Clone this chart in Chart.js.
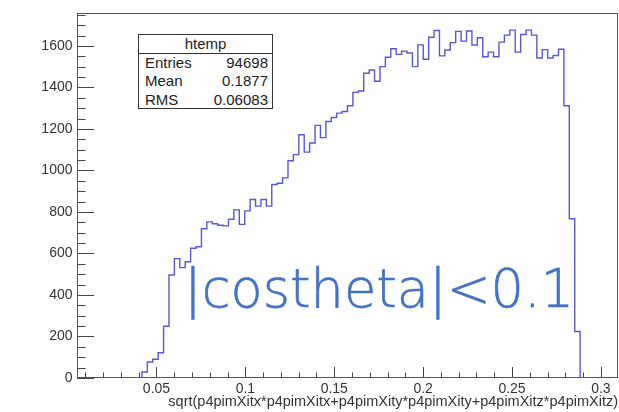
<!DOCTYPE html>
<html>
<head>
<meta charset="utf-8">
<script src="https://cdn.jsdelivr.net/npm/chart.js@4/dist/chart.umd.min.js"></script>
<style>
html,body{margin:0;padding:0;background:#fff;}
#wrap{position:relative;width:619px;height:412px;overflow:hidden;background:#fff;}
#c{position:absolute;left:0;top:0;}
#stats{position:absolute;left:138px;top:34px;width:135px;height:75px;box-sizing:border-box;border:1px solid #333;background:#fff;
  font-family:"Liberation Sans",Arial,sans-serif;font-size:15px;color:#222;}
#stats .t{height:18px;line-height:18px;text-align:center;border-bottom:1px solid #333;}
#stats .r{display:flex;justify-content:space-between;height:18.3px;line-height:18.3px;padding:0 4px 0 6px;}
#note{position:absolute;left:184px;top:263px;font-family:"DejaVu Sans",sans-serif;font-weight:200;font-size:52.5px;line-height:1;color:#4472C4;white-space:nowrap;-webkit-text-stroke:0.6px #4472C4;}
</style>
</head>
<body>
<div id="wrap">
  <canvas id="c" width="619" height="412"></canvas>
  <div id="stats"></div>
  <div id="note"></div>
</div>
<script>
// ---- data ----
const histName = 'htemp';
const statLabels = ['Entries', 'Mean', 'RMS'];
const statValues = ['94698', '0.1877', '0.06083'];
const xTitle = 'sqrt(p4pimXitx*p4pimXitx+p4pimXity*p4pimXity+p4pimXitz*p4pimXitz)';
const noteText = '|costheta|<0.1';

const xMin = 0.00528;          // histogram axis range
const xMax = 0.30962;
const nBins = 100;
const firstBin = 12;           // index of first filled bin
const binCounts = [
  29, 77, 90, 122, 249, 496, 575, 532, 560,
  625, 632, 719, 752, 743, 736, 733, 765, 810, 740,
  805, 860, 828, 860, 828, 932, 938, 964, 1047, 1076,
  1172, 1088, 1132, 1217, 1158, 1236, 1255, 1276, 1284, 1312,
  1376, 1383, 1468, 1484, 1430, 1500, 1545, 1586, 1559, 1575,
  1566, 1500, 1605, 1536, 1642, 1674, 1552, 1580, 1616, 1670,
  1623, 1672, 1604, 1639, 1548, 1570, 1548, 1618, 1652, 1676,
  1570, 1655, 1676, 1652, 1542, 1582, 1542, 1554, 1584,
  1312, 767, 224
];
const yMax = 1759;
const xTicks = [0.05, 0.1, 0.15, 0.2, 0.25, 0.3];
const xTickLabels = ['0.05', '0.1', '0.15', '0.2', '0.25', '0.3'];
const yTicks = [0, 200, 400, 600, 800, 1000, 1200, 1400, 1600];
const yTickLabels = ['0', '200', '400', '600', '800', '1000', '1200', '1400', '1600'];
const xMinorStep = 0.01;
const yMinorStep = 50;

// ---- build histogram points (bin low edges, step drawing) ----
const binWidth = (xMax - xMin) / nBins;
const pts = [];
const e0 = xMin + firstBin * binWidth;
pts.push({x: e0, y: 0});
binCounts.forEach((v, k) => pts.push({x: xMin + (firstBin + k) * binWidth, y: v}));
pts.push({x: xMin + (firstBin + binCounts.length) * binWidth, y: 0});

// ---- overlays as real text ----
const st = document.getElementById('stats');
st.innerHTML = '<div class="t">' + histName + '</div>' +
  statLabels.map((l, i) => '<div class="r"><span>' + l + '</span><span>' + statValues[i] + '</span></div>').join('');
document.getElementById('note').textContent = noteText;

const FONT = '"Liberation Sans", Arial, sans-serif';

const rootFrame = {
  id: 'rootFrame',
  afterDatasetsDraw(chart) {
    const {ctx, chartArea: a, scales: {x, y}} = chart;
    ctx.save();
    ctx.strokeStyle = '#444';
    ctx.lineWidth = 1;
    ctx.beginPath();
    for (let v = Math.ceil(xMin / xMinorStep) * xMinorStep; v <= xMax + 1e-9; v += xMinorStep) {
      const px = Math.round(x.getPixelForValue(v)) + 0.5;
      const major = xTicks.some(t => Math.abs(t - v) < 1e-6);
      ctx.moveTo(px, a.bottom);
      ctx.lineTo(px, a.bottom - (major ? 11 : 5.5));
    }
    for (let v = 0; v <= yMax; v += yMinorStep) {
      const py = Math.round(y.getPixelForValue(v)) + 0.5;
      const major = yTicks.includes(v);
      ctx.moveTo(a.left, py);
      ctx.lineTo(a.left + (major ? 17 : 8.5), py);
    }
    ctx.stroke();
    ctx.strokeStyle = '#555';
    ctx.strokeRect(Math.round(a.left) + 0.5, Math.round(a.top) + 0.5,
                   Math.round(a.right - a.left) - 1, Math.round(a.bottom - a.top) - 1);
    ctx.restore();
  }
};

new Chart(document.getElementById('c'), {
  type: 'line',
  data: {
    datasets: [{
      label: histName,
      data: pts,
      stepped: 'before',
      borderColor: 'rgb(88,88,210)',
      borderWidth: 1.4,
      pointRadius: 0,
      fill: false
    }]
  },
  options: {
    responsive: false,
    animation: false,
    events: [],
    layout: {padding: {top: 11, right: 1, left: 0, bottom: 0}},
    plugins: {legend: {display: false}, tooltip: {enabled: false}},
    scales: {
      x: {
        type: 'linear',
        min: xMin, max: xMax,
        grid: {display: false, drawTicks: false},
        border: {display: false},
        afterBuildTicks: s => { s.ticks = xTicks.map(v => ({value: v})); },
        afterFit: s => { s.height = 34; },
        ticks: {
          padding: 3, maxRotation: 0, autoSkip: false,
          color: '#333', font: {family: FONT, size: 14},
          callback: (v) => xTickLabels[xTicks.findIndex(t => Math.abs(t - v) < 1e-6)]
        },
        title: {
          display: true, text: xTitle, align: 'end', color: '#333',
          font: {family: FONT, size: 14.5}, padding: {top: 0, bottom: 1}
        }
      },
      y: {
        type: 'linear',
        min: 0, max: yMax,
        grid: {display: false, drawTicks: false},
        border: {display: false},
        afterBuildTicks: s => { s.ticks = yTicks.map(v => ({value: v})); },
        afterFit: s => { s.width = 77; },
        ticks: {
          padding: 4.5, autoSkip: false,
          color: '#333', font: {family: FONT, size: 14},
          callback: (v) => yTickLabels[yTicks.indexOf(v)]
        }
      }
    }
  },
  plugins: [rootFrame]
});
</script>
</body>
</html>
